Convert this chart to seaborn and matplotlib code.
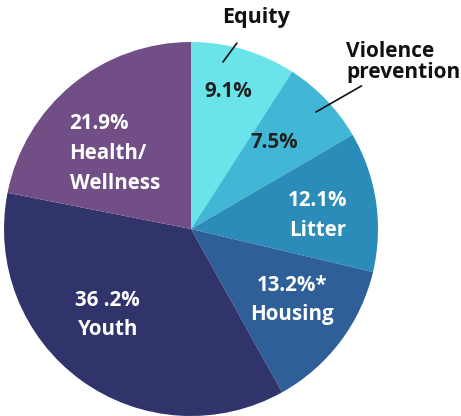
import numpy as np
import seaborn as sns
import matplotlib.pyplot as plt

sns.set_theme(style="white")
plt.rcParams['font.family'] = ['Open Sans', 'DejaVu Sans']

# slices, clockwise from 12 o'clock
categories = ["Equity", "Violence prevention", "Litter", "Housing", "Youth", "Health/Wellness"]
shares = [9.1, 7.5, 12.1, 13.2, 36.2, 21.9]
inner_labels = ["9.1%", "7.5%", "12.1%\nLitter", "13.2%*\nHousing", "36 .2%\nYouth", "21.9%\nHealth/\nWellness"]
colors = ["#6ae4e8", "#42b7d5", "#2b8bb9", "#2e5f98", "#30346b", "#714e86"]
text_colors = ["#222222", "#222222", "white", "white", "white", "white"]

# label radius (fraction of pie radius) and angle offset from slice middle
label_r = [0.76, 0.64, 0.68, 0.66, 0.64, 0.56]
label_dang = [1.3, 2.3, -2.2, 2.0, -8.0, 4.6]

fig = plt.figure(figsize=(4.61, 4.16), dpi=100)
ax = fig.add_axes([4 / 461, 0, 374 / 461, 374 / 416])
wedges, _ = ax.pie(shares, colors=colors, startangle=90, counterclock=False,
                   radius=1, wedgeprops=dict(linewidth=0))
ax.set_xlim(-1, 1)
ax.set_ylim(-1, 1)
ax.set_aspect("equal")
ax.axis("off")

for w, lab, tc, r, da in zip(wedges, inner_labels, text_colors, label_r, label_dang):
    mid = np.deg2rad((w.theta1 + w.theta2) / 2 + da)
    ha = "left" if "Wellness" in lab else "center"
    x = r * np.cos(mid)
    y = r * np.sin(mid)
    if ha == "left":
        x -= 0.26
    ax.text(x, y, lab, ha=ha, va="center", color=tc, fontsize=14.8,
            fontweight="bold", linespacing=1.55)

# outside labels with leader lines
def px(p, q):
    return ((p - 191) / 187, (229 - q) / 187)

ax.annotate("Equity", xy=px(223, 62), xytext=px(256, 17), ha="center", va="center",
            fontsize=15.5, fontweight="bold", color="#111111",
            arrowprops=dict(arrowstyle="-", color="#111111", lw=1.2,
                            shrinkA=11, shrinkB=0))
ax.annotate("Violence\nprevention", xy=px(316, 112), xytext=px(346, 62), ha="left",
            va="center", fontsize=15, fontweight="bold", color="#111111",
            linespacing=0.95,
            arrowprops=dict(arrowstyle="-", color="#111111", lw=1.2,
                            shrinkA=0, shrinkB=0))

fig.savefig("out.png", dpi=100)
